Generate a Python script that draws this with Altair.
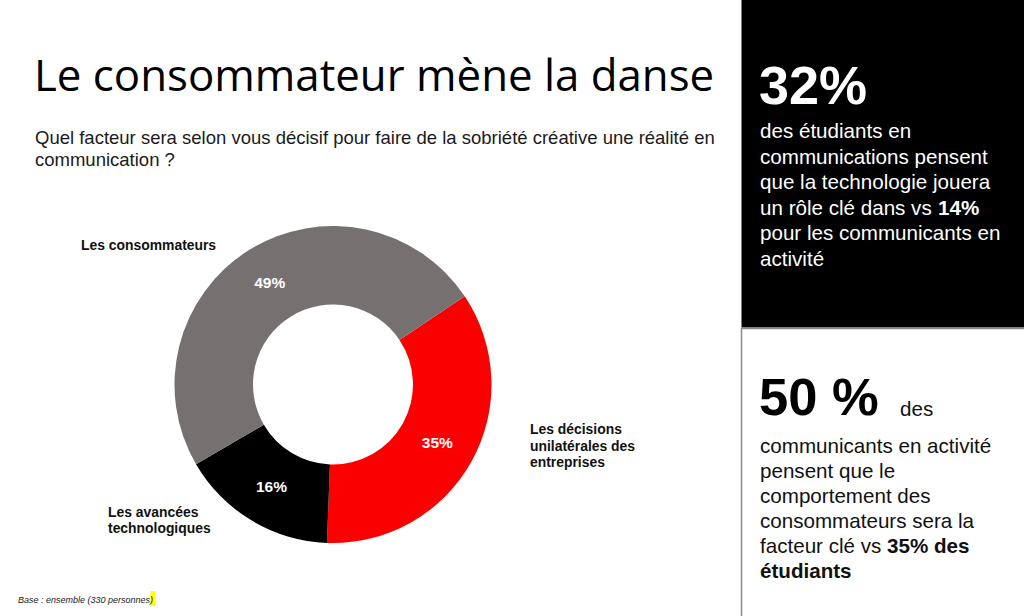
import math
import altair as alt
import pandas as pd

# ---------------- data ----------------
categories = ["Les décisions unilatérales des entreprises", "Les avancées technologiques", "Les consommateurs"]
values = [35, 16, 49]
pct_labels = ["35%", "16%", "49%"]
slice_colors = ["#fb0000", "#000000", "#767170"]

title_text = "Le consommateur mène la danse"
subtitle_lines = [
    "Quel facteur sera selon vous décisif pour faire de la sobriété créative une réalité en",
    "communication ?",
]
cat_label_consommateurs = ["Les consommateurs"]
cat_label_decisions = ["Les décisions", "unilatérales des", "entreprises"]
cat_label_avancees = ["Les avancées", "technologiques"]

panel1_big = "32%"
panel1_lines = ["des étudiants en", "communications pensent", "que la technologie jouera",
                "un rôle clé dans vs ", "pour les communicants en", "activité"]
panel1_bold = "14%"
panel2_big = "50 %"
panel2_big_tail = "des"
panel2_lines = ["communicants en activité", "pensent que le", "comportement des",
                "consommateurs sera la", "facteur clé vs ", ""]
panel2_bold = ["35% des", "étudiants"]
footer_text = "Base : ensemble (330 personnes)"

SANS = "Liberation Sans, Arial, sans-serif"
TITLE_FONT = "Open Sans, Noto Sans, sans-serif"

df = pd.DataFrame({
    "category": categories,
    "value": values,
    "label": pct_labels,
    "order": list(range(len(categories))),
})

CX, CY = 333, 384.5
start = math.radians(56.2)
theta_scale = alt.Scale(range=[start, start + 2 * math.pi])


def one():
    return alt.Data(values=[{"k": 1}])


def txt(s, x, y, size, color="black", weight="normal", font=SANS, style="normal"):
    return alt.Chart(alt.Data(values=[{"t": s}])).mark_text(
        align="left", baseline="alphabetic", fontSize=size, fontWeight=weight,
        font=font, color=color, fontStyle=style,
    ).encode(x=alt.value(x), y=alt.value(y), text="t:N")


layers = []

# panels
layers.append(alt.Chart(one()).mark_rect(color="black").encode(
    x=alt.value(741.5), x2=alt.value(1024), y=alt.value(0), y2=alt.value(327.5)))
layers.append(alt.Chart(one()).mark_rect(fill="white", stroke="#8a8a8a", strokeWidth=1.5).encode(
    x=alt.value(741.5), x2=alt.value(1030), y=alt.value(328.5), y2=alt.value(622)))

# donut
base = alt.Chart(df).encode(
    theta=alt.Theta("value:Q", stack=True, scale=theta_scale),
    order=alt.Order("order:Q"),
)
layers.append(base.mark_arc(outerRadius=158.5, innerRadius=80).encode(
    color=alt.Color("category:N", scale=alt.Scale(domain=categories, range=slice_colors), legend=None),
    x=alt.value(CX), y=alt.value(CY),
))
layers.append(base.mark_text(radius=119.5, font=SANS, fontSize=15.5, fontWeight="bold", color="white",
                             align="center", baseline="middle").encode(
    text="label:N", detail="category:N", x=alt.value(CX), y=alt.value(CY),
))

# title & subtitle
layers.append(txt(title_text, 34, 91, 43.8, font=TITLE_FONT))
layers.append(txt(subtitle_lines[0], 35, 144, 18.5, color="#1a1a1a"))
layers.append(txt(subtitle_lines[1], 35, 166, 18.5, color="#1a1a1a"))

# category labels
for i, s in enumerate(cat_label_consommateurs):
    layers.append(txt(s, 81, 250 + i * 16.5, 13.9, weight="bold", color="#111"))
for i, s in enumerate(cat_label_decisions):
    layers.append(txt(s, 530, 434 + i * 16.5, 13.9, weight="bold", color="#111"))
for i, s in enumerate(cat_label_avancees):
    layers.append(txt(s, 108, 516.5 + i * 16, 13.9, weight="bold", color="#111"))

# right black panel
layers.append(txt(panel1_big, 759, 104, 54, color="white", weight="bold"))
for i, s in enumerate(panel1_lines):
    layers.append(txt(s, 760, 138 + i * 25.5, 20.6, color="white"))
layers.append(txt(panel1_bold, 938, 138 + 3 * 25.5, 20.6, color="white", weight="bold"))

# right lower panel
layers.append(txt(panel2_big, 759, 415, 52.5, color="black", weight="bold"))
layers.append(txt(panel2_big_tail, 900, 416, 20.6, color="#111"))
for i, s in enumerate(panel2_lines):
    if s:
        layers.append(txt(s, 760, 452.5 + i * 25.1, 20.6, color="#111"))
layers.append(txt(panel2_bold[0], 887, 452.5 + 4 * 25.1, 20.6, color="#111", weight="bold"))
layers.append(txt(panel2_bold[1], 760, 452.5 + 5 * 25.1, 20.6, color="#111", weight="bold"))

# footer
layers.append(alt.Chart(one()).mark_rect(color="#ffff00").encode(
    x=alt.value(150.5), x2=alt.value(155.5), y=alt.value(591), y2=alt.value(606)))
layers.append(txt(footer_text, 18, 603, 9, color="#222", font=SANS, style="italic"))

chart = alt.layer(*layers).properties(
    width=1024, height=616, padding=0, autosize=alt.AutoSizeParams(type="none"),
    background="white",
).configure_view(stroke=None)

chart.save("out.html", embed_options={"renderer": "svg", "actions": False})
